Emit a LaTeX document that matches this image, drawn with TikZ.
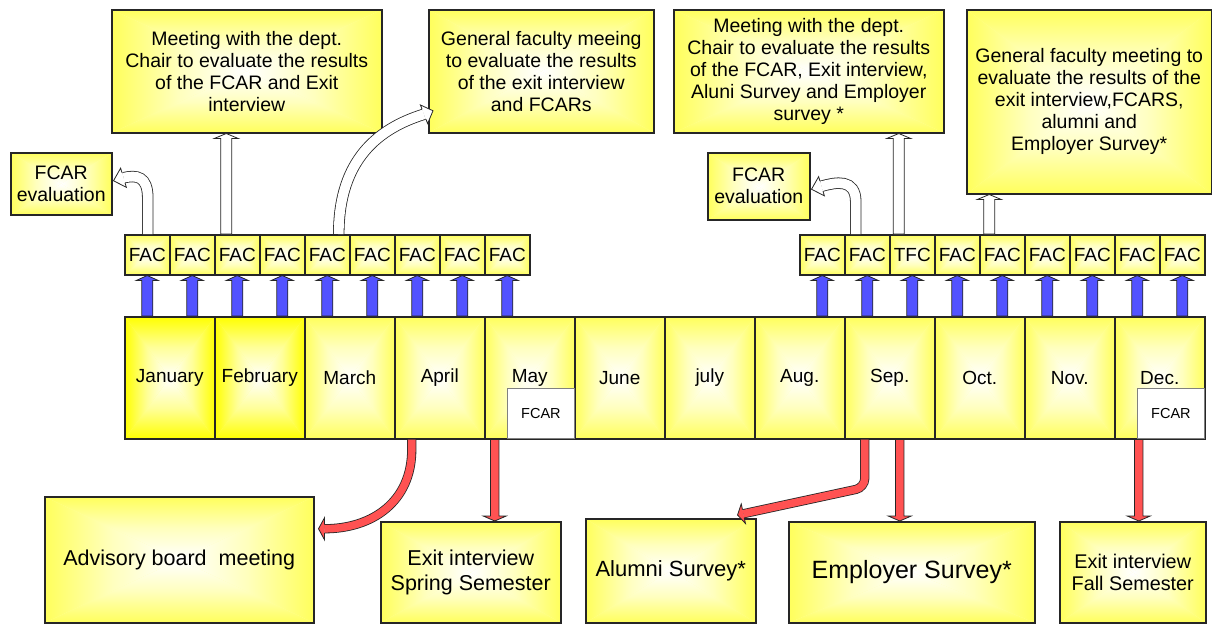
\documentclass[tikz,border=0pt]{standalone}
\usepackage{fontspec}
\setmainfont{Liberation Sans}
\usetikzlibrary{calc}
\definecolor{blueA}{HTML}{5252FF}
\definecolor{redA}{HTML}{FF5252}
\definecolor{yedge}{HTML}{FFFF5C}
\definecolor{yfull}{HTML}{FFFF00}
\newcommand\mkblockarrow[6]{%
  \path (#2) coordinate (bA) (#3) coordinate (bT);
  \path ($(bT)!#6!(bA)$) coordinate (bH);
  \filldraw[#1] ($(bA)!#4!90:(bT)$) -- ($(bH)!#4!-90:(bA)$) -- ($(bH)!#5!-90:(bA)$) -- (bT) -- ($(bH)!#5!90:(bA)$) -- ($(bH)!#4!90:(bA)$) -- ($(bA)!#4!-90:(bT)$) -- cycle;
}
\newcommand\mkarrowhead[5]{%
  \filldraw[#1] ($(#2)!#4!90:(#3)$) -- ($(#2)!#5!90:(#3)$) -- (#3) -- ($(#2)!#5!-90:(#3)$) -- ($(#2)!#4!-90:(#3)$);
}
\tikzset{
  rectgrad/.style={fill=#1!50!white, path picture={
    \path (path picture bounding box.north west) coordinate (pnw)
          (path picture bounding box.north east) coordinate (pne)
          (path picture bounding box.south west) coordinate (psw)
          (path picture bounding box.south east) coordinate (pse)
          (path picture bounding box.center) coordinate (pc);
    \shade[top color=#1, bottom color=white, middle color=#1!40!white] (pnw) -- (pne) -- (pc) -- cycle;
    \shade[top color=white, bottom color=#1, middle color=#1!40!white] (psw) -- (pse) -- (pc) -- cycle;
    \shade[left color=#1, right color=white, middle color=#1!40!white] (pnw) -- (psw) -- (pc) -- cycle;
    \shade[left color=white, right color=#1, middle color=#1!40!white] (pne) -- (pse) -- (pc) -- cycle;
  }},
  ybox/.style={draw=black!85, line width=1.5pt, rectgrad=yedge, align=center, inner sep=0pt, anchor=north west},
  ybright/.style={draw=black!85, line width=1.5pt, rectgrad=yfull, align=center, inner sep=0pt, anchor=north west},
  sz/.style 2 args={minimum width=#1pt, minimum height=#2pt},
  wbox/.style={draw=black!50, line width=0.8pt, fill=white, inner sep=0pt, anchor=north west, font=\fontsize{14.5}{16}\selectfont},
  ttext/.style={font=\fontsize{19.5}{22}\selectfont},
  mtext/.style={font=\fontsize{19}{22}\selectfont},
  blueblock/.style={fill=blueA, draw=black!85, line width=0.8pt},
  whiteblock/.style={fill=white, draw=black!85, line width=0.8pt},
  redblock/.style={fill=redA, draw=black!85, line width=0.8pt},
  whiteshaft/.style={draw=black!85, line width=0.8pt, double=white, double distance=9.8pt},
  redshaft/.style={draw=black!85, line width=0.8pt, double=redA, double distance=7.6pt},
}
\begin{document}
\begin{tikzpicture}[x=1pt,y=-1pt]
\useasboundingbox (0,0) rectangle (1212,624);
% top boxes
\node[ybox, sz={270}{123}, ttext] (tA) at (111,9) {Meeting with the dept.\\Chair to evaluate the results\\of the FCAR and Exit\\interview};
\node[ybox, sz={101}{62}, ttext] (fL) at (10,152) {FCAR\\evaluation};
\node[ybox, sz={225}{123}, ttext] (tB) at (428,9) {General faculty meeing\\to evaluate the results\\of the exit interview\\and FCARs};
\node[ybox, sz={270}{123}, ttext] (tC) at (673,9) {Meeting with the dept.\\Chair to evaluate the results\\of the FCAR, Exit interview,\\Aluni Survey and Employer\\survey *};
\node[ybox, sz={102}{67}, ttext] (fR) at (707,152) {FCAR\\evaluation};
\node[ybox, sz={245}{184}, ttext] (tD) at (966,9) {General faculty meeting to\\evaluate the results of the\\exit interview,FCARS,\\alumni and\\Employer Survey*};
% months
\node[ybright, sz={90}{122}, mtext] (m1) at (124,316) {January};
\node[ybright, sz={90}{122}, mtext] (m2) at (214,316) {February};
\foreach \i/\t in {3/March,4/April,5/May,6/June,7/july,8/Aug.,9/Sep.,10/Oct.,11/Nov.,12/Dec.}
  \node[ybox, sz={90}{122}, mtext] (m\i) at ({124+90*(\i-1)},316) {\t};
\node[wbox, sz={67}{50}] (fcM) at (507,388) {FCAR};
\node[wbox, sz={67}{50}] (fcD) at (1137,388) {FCAR};
% FAC rows
\foreach \i in {1,...,9}
  \node[ybox, sz={45}{40}, mtext] (f\i) at ({124+45*(\i-1)},234) {FAC};
\foreach \i/\t in {1/FAC,2/FAC,3/TFC,4/FAC,5/FAC,6/FAC,7/FAC,8/FAC,9/FAC}
  \node[ybox, sz={45}{40}, mtext] (g\i) at ({799+45*(\i-1)},234) {\t};
% bottom boxes
\node[ybox, sz={269}{126}, font=\fontsize{21.5}{25}\selectfont] (adv) at (44,496) {Advisory board\ \ meeting};
\node[ybox, sz={180}{101}, font=\fontsize{21.5}{25}\selectfont] (exS) at (380,521) {Exit interview\\Spring Semester};
\node[ybox, sz={170}{104}, font=\fontsize{22}{25}\selectfont] (alu) at (585,518) {Alumni Survey*};
\node[ybox, sz={246}{101}, font=\fontsize{25}{28}\selectfont] (emp) at (788,521) {Employer Survey*};
\node[ybox, sz={146}{101}, font=\fontsize{19.8}{22}\selectfont] (exF) at (1059,521) {Exit interview\\Fall Semester};
% blue arrows
\foreach \i in {1,...,9} {
  \mkblockarrow{blueblock}{f\i.south |- m1.north}{f\i.south}{5.5pt}{11pt}{5pt}
  \mkblockarrow{blueblock}{g\i.south |- m1.north}{g\i.south}{5.5pt}{11pt}{5pt}
}
% white straight arrows
\coordinate (w2t) at ($(f3.north)+(-11,0)$);
\coordinate (w2h) at (w2t |- tA.south);
\mkblockarrow{whiteblock}{w2t}{w2h}{5.5pt}{12pt}{5pt}
\coordinate (w5t) at ($(g3.north)+(-13.5,0)$);
\coordinate (w5h) at (w5t |- tC.south);
\mkblockarrow{whiteblock}{w5t}{w5h}{5.5pt}{12pt}{5pt}
\coordinate (w6t) at ($(g5.north)+(-13,0)$);
\coordinate (w6h) at (w6t |- tD.south);
\mkblockarrow{whiteblock}{w6t}{w6h}{5.5pt}{12pt}{5pt}
% white curved arrows
\coordinate (c1t) at ($(f1.north)+(0.5,0)$);
\coordinate (c1tip) at ($(fL.east)+(1,-3)$);
\coordinate (c1b) at ($(c1tip)+(10,-3)$);
\draw[whiteshaft] (c1t) -- ++(0,-36) .. controls +(0,-22) and ($(c1b)+(13,-3)$) .. (c1b);
\mkarrowhead{whiteblock}{c1b}{c1tip}{5.3pt}{10pt}
\coordinate (c3t) at ($(f5.north)+(11.5,0)$);
\coordinate (c3tip) at ($(tB.west)+(5,39.5)$);
\coordinate (c3b) at ($(c3tip)+(-9,3.5)$);
\draw[whiteshaft] (c3t) .. controls ($(c3t)+(0,-75)$) and ($(c3b)+(-45,14)$) .. (c3b);
\mkarrowhead{whiteblock}{c3b}{c3tip}{5.3pt}{10pt}
\coordinate (c4t) at ($(g2.north)+(-11.5,0)$);
\coordinate (c4tip) at ($(fR.east)+(1,3)$);
\coordinate (c4b) at ($(c4tip)+(10,-3)$);
\draw[whiteshaft] (c4t) -- ++(0,-32) .. controls +(0,-24) and ($(c4b)+(14,-4)$) .. (c4b);
\mkarrowhead{whiteblock}{c4b}{c4tip}{5.3pt}{10pt}
% red arrows
\coordinate (r1t) at ($(m4.south)+(-28,0)$);
\coordinate (r1tip) at ($(adv.east)+(4,-31)$);
\coordinate (r1b) at ($(r1tip)+(6,0)$);
\draw[redshaft] (r1t) -- ++(0,10) .. controls +(0,52) and ($(r1b)+(48,0)$) .. (r1b);
\mkarrowhead{redblock}{r1b}{r1tip}{4.2pt}{11pt}
\coordinate (r2t) at ($(m5.south)+(-35,0)$);
\coordinate (r2h) at (r2t |- exS.north);
\mkblockarrow{redblock}{r2t}{r2h}{4.2pt}{11.5pt}{5pt}
\coordinate (r3t) at ($(m9.south)+(10,0)$);
\coordinate (r3h) at (r3t |- emp.north);
\mkblockarrow{redblock}{r3t}{r3h}{4.2pt}{11.5pt}{5pt}
\coordinate (r4t) at ($(m12.south)+(-21,0)$);
\coordinate (r4h) at (r4t |- exF.north);
\mkblockarrow{redblock}{r4t}{r4h}{4.2pt}{11.5pt}{5pt}
\coordinate (r5t) at ($(m9.south)+(-25,0)$);
\coordinate (r5c) at ($(r5t)+(0,48)$);
\coordinate (r5tip) at ($(alu.north east)+(-19,-3)$);
\coordinate (r5b) at ($(r5tip)!6pt!(r5c)$);
\draw[redshaft, rounded corners=9pt] (r5t) -- (r5c) -- (r5b);
\mkarrowhead{redblock}{r5b}{r5tip}{4.2pt}{10pt}
\end{tikzpicture}
\end{document}
